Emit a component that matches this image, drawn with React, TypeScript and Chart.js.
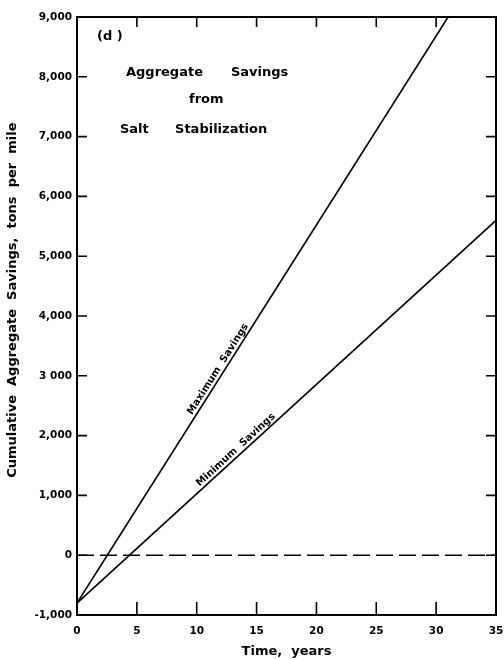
import React, { useEffect, useRef } from "react";
import { Chart, registerables } from "chart.js";

Chart.register(...registerables);

// ---- data ----
const xTickLabels = ["0", "5", "10", "15", "20", "25", "30", "35"];
const yTickLabels = ["-1,000", "0", "1,000", "2,000", "3 000", "4,000", "5,000", "6,000", "7,000", "8,000", "9,000"];
const maxSavingsX = [0, 31];
const maxSavingsY = [-800, 9000];
const minSavingsX = [0, 35];
const minSavingsY = [-800, 5600];
const breakEvenX = [0, 35];
const breakEvenY = [0, 0];

const FONT = '"DejaVu Sans", "Liberation Sans", sans-serif';

const toPts = (xs: number[], ys: number[]) => xs.map((x, i) => ({ x, y: ys[i] }));

const decorPlugin = {
  id: "decor",
  afterDatasetsDraw(chart: any) {
    const { ctx, chartArea: a, scales } = chart;
    const xs = scales.x;
    const ys = scales.y;
    ctx.save();
    // frame
    ctx.strokeStyle = "#000";
    ctx.lineWidth = 2;
    ctx.strokeRect(a.left, a.top, a.right - a.left, a.bottom - a.top);
    // ticks inward
    ctx.lineWidth = 1.6;
    ys.ticks.forEach((t: any) => {
      const y = ys.getPixelForValue(t.value);
      ctx.beginPath();
      ctx.moveTo(a.left, y);
      ctx.lineTo(a.left + 10, y);
      ctx.moveTo(a.right, y);
      ctx.lineTo(a.right - 10, y);
      ctx.stroke();
    });
    xs.ticks.forEach((t: any) => {
      const x = xs.getPixelForValue(t.value);
      ctx.beginPath();
      ctx.moveTo(x, a.bottom);
      ctx.lineTo(x, a.bottom - 13);
      ctx.moveTo(x, a.top);
      ctx.lineTo(x, a.top + 10);
      ctx.stroke();
    });
    // annotation text
    ctx.fillStyle = "#000";
    ctx.textBaseline = "middle";
    ctx.textAlign = "left";
    ctx.font = `bold 13px ${FONT}`;
    const put = (s: string, dx: number, dy: number) =>
      ctx.fillText(s, xs.getPixelForValue(dx), ys.getPixelForValue(dy));
    put("(d )", 1.67, 8666);
    put("Aggregate", 4.09, 8063);
    put("Savings", 12.86, 8063);
    put("from", 9.36, 7612);
    put("Salt", 3.59, 7110);
    put("Stabilization", 8.19, 7110);

    // rotated line labels
    const lineLabel = (s: string, xsArr: number[], ysArr: number[], at: number) => {
      const x0 = xs.getPixelForValue(xsArr[0]);
      const y0 = ys.getPixelForValue(ysArr[0]);
      const x1 = xs.getPixelForValue(xsArr[1]);
      const y1 = ys.getPixelForValue(ysArr[1]);
      const ang = Math.atan2(y1 - y0, x1 - x0);
      const t = (at - xsArr[0]) / (xsArr[1] - xsArr[0]);
      const px = x0 + (x1 - x0) * t;
      const py = y0 + (y1 - y0) * t;
      ctx.save();
      ctx.translate(px, py);
      ctx.rotate(ang);
      ctx.font = `bold 10px ${FONT}`;
      ctx.textAlign = "center";
      ctx.textBaseline = "bottom";
      ctx.fillText(s, 0, -1);
      ctx.restore();
    };
    lineLabel("Maximum  Savings", maxSavingsX, maxSavingsY, 12.2);
    lineLabel("Minimum  Savings", minSavingsX, minSavingsY, 13.6);
    ctx.restore();
  },
};

export default function App() {
  const ref = useRef<HTMLCanvasElement | null>(null);
  useEffect(() => {
    if (!ref.current) return;
    const chart = new Chart(ref.current, {
      type: "line",
      data: {
        datasets: [
          {
            label: "Maximum Savings",
            data: toPts(maxSavingsX, maxSavingsY),
            borderColor: "#000",
            borderWidth: 1.6,
            pointRadius: 0,
          },
          {
            label: "Minimum Savings",
            data: toPts(minSavingsX, minSavingsY),
            borderColor: "#000",
            borderWidth: 1.6,
            pointRadius: 0,
          },
          {
            label: "Break even",
            data: toPts(breakEvenX, breakEvenY),
            borderColor: "#000",
            borderWidth: 1.5,
            borderDash: [17, 6],
            pointRadius: 0,
          },
        ],
      },
      options: {
        animation: false,
        responsive: false,
        layout: { padding: { left: 0, right: 8, top: 17, bottom: 0 } },
        plugins: { legend: { display: false }, tooltip: { enabled: false } },
        scales: {
          x: {
            type: "linear",
            min: 0,
            max: 35,
            grid: { display: false, drawTicks: false },
            border: { display: false },
            ticks: {
              stepSize: 5,
              padding: 10,
              color: "#000",
              font: { family: FONT, size: 10.5, weight: "bold" },
              maxRotation: 0,
              callback: (_v: any, i: number) => xTickLabels[i],
            },
            title: {
              display: true,
              text: "Time,  years",
              color: "#000",
              font: { family: FONT, size: 13, weight: "bold" },
              padding: { top: 0, bottom: 0 },
            },
            afterFit: (s: any) => {
              s.height = 44;
              s.paddingRight = 0;
              s.paddingLeft = 0;
            },
          },
          y: {
            type: "linear",
            min: -1000,
            max: 9000,
            grid: { display: false, drawTicks: false },
            border: { display: false },
            ticks: {
              stepSize: 1000,
              padding: 5,
              color: "#000",
              font: { family: FONT, size: 10.5, weight: "bold" },
              callback: (_v: any, i: number) => yTickLabels[i],
            },
            title: {
              display: true,
              text: "       Cumulative  Aggregate  Savings,  tons  per  mile",
              color: "#000",
              font: { family: FONT, size: 13, weight: "bold" },
              padding: { top: 5, bottom: 0 },
            },
            afterFit: (s: any) => {
              s.width = 77;
              s.paddingTop = 0;
              s.paddingBottom = 0;
            },
          },
        },
      },
      plugins: [decorPlugin],
    });
    return () => chart.destroy();
  }, []);
  return (
    <div style={{ position: "fixed", left: 0, top: 0, width: 504, height: 659, background: "#fff" }}>
      <canvas ref={ref} width={504} height={659} style={{ width: 504, height: 659 }} />
    </div>
  );
}
